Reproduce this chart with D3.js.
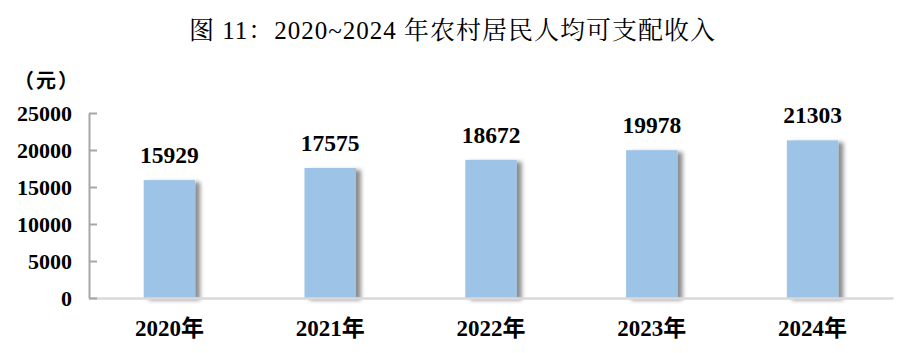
<!DOCTYPE html>
<html>
<head>
<meta charset="utf-8">
<script src="https://cdn.jsdelivr.net/npm/d3@7"></script>
<style>
  body { margin: 0; background: #fff; }
</style>
</head>
<body>
<div id="chart"></div>
<script>
// 数据
const years = ["2020年", "2021年", "2022年", "2023年", "2024年"];
const income = [15929, 17575, 18672, 19978, 21303];
const yTicks = [0, 5000, 10000, 15000, 20000, 25000];

const W = 905, H = 353;
const margin = { top: 113, right: 12, bottom: 55, left: 89 },
      width = W - margin.left - margin.right,
      height = H - margin.top - margin.bottom;

const serif = "'Liberation Serif', 'Noto Serif CJK SC', 'Noto Sans CJK SC', serif";
const serifBold = "'Liberation Serif', 'Noto Sans CJK SC', serif";

const svg = d3.select("#chart")
    .append("svg")
    .attr("width", W)
    .attr("height", H);

// 阴影
const defs = svg.append("defs");
defs.append("filter")
    .attr("id", "shadow")
    .attr("x", "-20%").attr("y", "-10%")
    .attr("width", "150%").attr("height", "130%")
    .append("feDropShadow")
    .attr("dx", 5).attr("dy", 2)
    .attr("stdDeviation", 2.2)
    .attr("flood-color", "#000")
    .attr("flood-opacity", 0.45);

// 标题
svg.append("text")
    .attr("x", W / 2)
    .attr("y", 38.5)
    .attr("text-anchor", "middle")
    .style("font-family", serif)
    .style("font-size", "25px")
    .style("letter-spacing", "1px")
    .text("图 11：2020~2024 年农村居民人均可支配收入");

// 单位
svg.append("text")
    .attr("x", 47)
    .attr("y", 88)
    .attr("text-anchor", "middle")
    .style("font-family", serifBold)
    .style("font-size", "20px")
    .style("font-weight", "bold")
    .style("letter-spacing", "2px")
    .text("（元）");

const g = svg.append("g")
    .attr("transform", `translate(${margin.left},${margin.top})`);

const x = d3.scaleBand()
    .domain(years)
    .range([0, width])
    .paddingInner(0.68)
    .paddingOuter(0.34);

const y = d3.scaleLinear()
    .domain([0, 25000])
    .range([height, 0]);

// 柱子
g.selectAll(".bar")
    .data(income)
    .enter()
    .append("rect")
    .attr("class", "bar")
    .attr("x", (d, i) => x(years[i]))
    .attr("y", d => y(d))
    .attr("width", x.bandwidth())
    .attr("height", d => height - y(d))
    .attr("fill", "#9dc3e6")
    .attr("filter", "url(#shadow)");

// 数值标签
g.selectAll(".label")
    .data(income)
    .enter()
    .append("text")
    .attr("class", "label")
    .attr("x", (d, i) => x(years[i]) + x.bandwidth() / 2)
    .attr("y", d => y(d) - 17)
    .attr("text-anchor", "middle")
    .style("font-family", serifBold)
    .style("font-size", "23.5px")
    .style("font-weight", "bold")
    .text(d => d);

// X轴
const xAxis = g.append("g")
    .attr("transform", `translate(0,${height})`)
    .call(d3.axisBottom(x).tickSize(0).tickPadding(22));
xAxis.select(".domain").attr("stroke", "#d9d9d9").attr("stroke-width", 2.5);
xAxis.selectAll("text")
    .style("font-family", serifBold)
    .style("font-size", "23px")
    .style("font-weight", "bold")
    .attr("fill", "#000");

// Y轴
const yAxis = g.append("g")
    .call(d3.axisLeft(y).tickValues(yTicks).tickFormat(d3.format("d"))
        .tickSize(-8).tickPadding(17).tickSizeOuter(0));
yAxis.select(".domain").attr("stroke", "#a6a6a6").attr("stroke-width", 2);
yAxis.selectAll(".tick line").attr("stroke", "#a6a6a6").attr("stroke-width", 2);
yAxis.selectAll("text")
    .style("font-family", serifBold)
    .style("font-size", "22px")
    .style("font-weight", "bold")
    .attr("fill", "#000");
</script>
</body>
</html>
